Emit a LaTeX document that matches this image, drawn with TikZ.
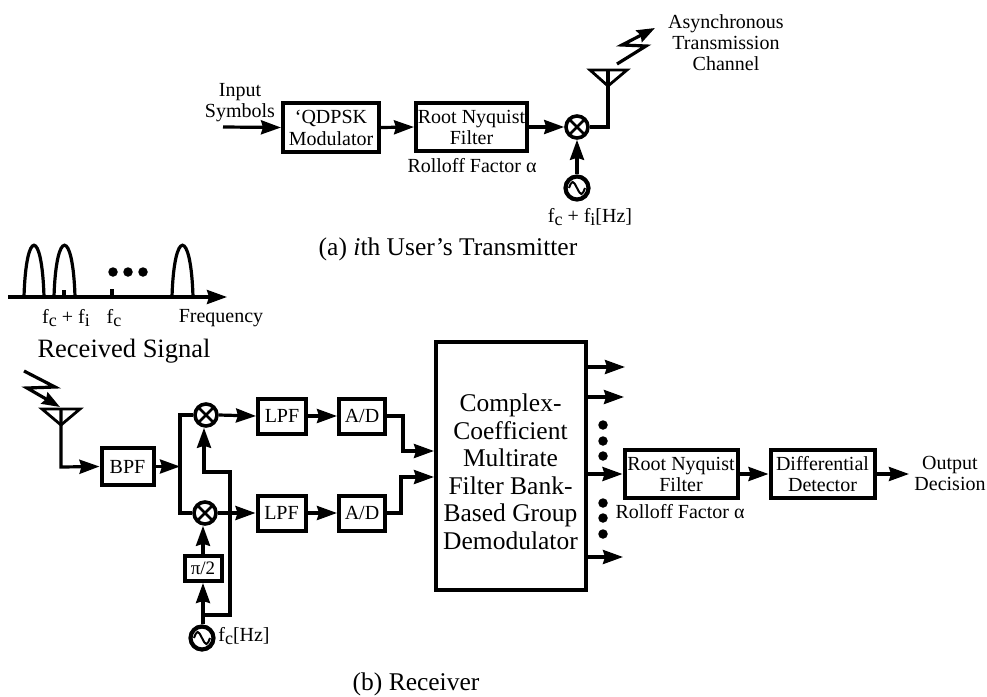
\documentclass[tikz,border=0pt]{standalone}
\usepackage{fontspec}
\setmainfont{Liberation Serif}
\usetikzlibrary{arrows.meta}
\newcommand{\sbs}[1]{\raisebox{-.4ex}{\fontsize{18}{18}\selectfont #1}}
\tikzset{
  x=1pt,y=-1pt,
  wire/.style={line width=3.2pt,line join=miter},
  arr/.style={wire,-{Stealth[length=20pt,width=14pt,inset=2pt]}},
  blk/.style={draw,line width=4pt,align=center,inner sep=0pt,font=\fontsize{20}{21}\selectfont},
  lab/.style={align=center,inner sep=0pt,font=\fontsize{20}{21}\selectfont},
  captxt/.style={inner sep=0pt,font=\fontsize{25.5}{26}\selectfont},
  mix/.style={draw,circle,line width=3.6pt,minimum size=22pt,inner sep=0pt,
    path picture={\draw[line width=2.6pt] (path picture bounding box.north west)--(path picture bounding box.south east)
      (path picture bounding box.north east)--(path picture bounding box.south west);}},
  osc/.style={draw,circle,line width=4.2pt,minimum size=23pt,inner sep=0pt,
    path picture={\draw[line width=2pt] (path picture bounding box.center) ++(-8,0)
      .. controls +(3,-8) and +(-4,-8) .. ++(8,0) .. controls +(4,8) and +(-3,8) .. ++(8,0);}},
  dot/.style={circle,fill=black,minimum size=9.5pt,inner sep=0pt},
}
\begin{document}
\begin{tikzpicture}
\useasboundingbox (0,0) rectangle (987,696);
% ---------- transmitter
\coordinate (tin) at (223,127);
\node[blk,minimum width=96pt,minimum height=49pt] (qd) at (331,127.5) {\char96 QDPSK\\[1pt]Modulator};
\node[blk,minimum width=111pt,minimum height=48pt] (rn) at (471.5,127) {Root Nyquist\\[0pt]Filter};
\node[mix] (tm) at (577,127) {};
\node[osc] (to) at (577,188) {};
\coordinate (tant) at (608,127);
\coordinate (ta1) at (590,70);
\coordinate (ta2) at (627,70);
\coordinate (ta3) at (608,86);
\coordinate (tac) at (608,70);
\draw[arr] (tin) -- (qd.west);
\draw[arr] (qd.east) -- (rn.west);
\draw[arr] (rn.east) -- (tm.west);
\draw[arr] (to.north) -- (tm.south);
\draw[wire] (tm.east) -- (tant) -- (tac);
\draw[wire,line width=2.8pt,line join=miter] (ta1) -- (ta2) -- (ta3) -- cycle;
\coordinate (tl1) at (617,64);
\coordinate (tl2) at (646,46);
\coordinate (tl3) at (622,45);
\coordinate (tl4) at (655,28);
\draw[wire,-{Stealth[length=18pt,width=13pt,inset=2pt]}] (tl1) -- (tl2) -- (tl3) -- (tl4);
\node[lab] (tinl) at (240,103) {Input\\[0pt]Symbols};
\node[lab] (roll1) at (472,166) {Rolloff Factor α};
\node[lab] (ffreq) at (590,217) {f\sbs{c} + f\sbs{i}[Hz]};
\node[lab] (chan) at (726,43) {Asynchronous\\[0pt]Transmission\\[0pt]Channel};
\node[captxt] (capa) at (448,249) {(a) \textit{i}th User\char39 s Transmitter};
% ---------- spectrum
\coordinate (ax0) at (8,297);
\coordinate (ax1) at (227,297);
\draw[arr] (ax0) -- (ax1);
\draw[wire] (24,297) .. controls (26,228) and (42,228) .. (44,297);
\draw[wire] (54,297) .. controls (56,228) and (73,228) .. (75,297);
\draw[wire] (172,297) .. controls (174,228) and (191,228) .. (193,297);
\draw[wire] (64,297) -- (64,290);
\draw[wire] (112,297) -- (112,289);
\node[dot] (sd1) at (113,272) {};
\node[dot] (sd2) at (128,272) {};
\node[dot] (sd3) at (143,272) {};
\node[lab] (lfi) at (66,318) {f\sbs{c} + f\sbs{i}};
\node[lab] (lfc) at (114,318) {f\sbs{c}};
\node[lab] (lfr) at (221,318) {Frequency};
\node[captxt,font=\fontsize{26.5}{27}\selectfont] (lrs) at (124,351) {Received Signal};
% ---------- receiver
\coordinate (ra1) at (42,409);
\coordinate (ra2) at (80,409);
\coordinate (ra3) at (61,425);
\coordinate (rac) at (61,409);
\coordinate (rae) at (61,467);
\draw[wire,line width=2.8pt] (ra1) -- (ra2) -- (ra3) -- cycle;
\coordinate (rl1) at (24,371);
\coordinate (rl2) at (55,387);
\coordinate (rl3) at (27,388);
\coordinate (rl4) at (60,407);
\draw[wire,-{Stealth[length=18pt,width=13pt,inset=2pt]}] (rl1) -- (rl2) -- (rl3) -- (rl4);
\node[blk,minimum width=52pt,minimum height=37pt] (bpf) at (127.5,466.5) {BPF};
\draw[arr] (rac) -- (rae) -- (bpf.west);
\coordinate (sp) at (180,466.5);
\node[mix] (m1) at (206,415) {};
\node[mix] (m2) at (205,513) {};
\draw[arr] (bpf.east) -- (sp);
\draw[wire] (m1.west) -- (180,415) -- (180,513) -- (m2.west);
\node[blk,minimum width=48pt,minimum height=35pt] (l1) at (282,416) {LPF};
\node[blk,minimum width=48pt,minimum height=35pt] (l2) at (281.5,513) {LPF};
\node[blk,minimum width=46pt,minimum height=35pt] (d1) at (362,416) {A/D};
\node[blk,minimum width=46pt,minimum height=35pt] (d2) at (362,513) {A/D};
\node[blk,minimum width=150pt,minimum height=248pt] (big) at (510.5,465.5) {};
\node[align=center,inner sep=0pt,font=\fontsize{25.5}{27.5}\selectfont] (bigt) at (510.5,472)
  {Complex-\\Coefficient\\Multirate\\Filter Bank-\\Based Group\\Demodulator};
\draw[arr] (m1.east) -- (l1.west);
\draw[arr] (m2.east) -- (l2.west);
\draw[arr] (l1.east) -- (d1.west);
\draw[arr] (l2.east) -- (d2.west);
\coordinate (d1a) at (403,416);
\coordinate (d1b) at (403,451);
\coordinate (b1) at (434,451);
\coordinate (d2a) at (401,513);
\coordinate (d2b) at (401,477);
\coordinate (b2) at (434,477);
\draw[arr] (d1.east) -- (d1a) -- (d1b) -- (b1);
\draw[arr] (d2.east) -- (d2a) -- (d2b) -- (b2);
\node[blk,minimum width=37pt,minimum height=25pt,font=\fontsize{19}{20}\selectfont] (pi) at (203,568.5) {π/2};
\node[osc] (ro) at (202,638) {};
\coordinate (j0) at (203,615);
\coordinate (j1) at (230,615);
\coordinate (j2) at (230,472);
\coordinate (j3) at (204,472);
\draw[arr] (ro.north -| pi.south) -- (pi.south);
\draw[arr] (pi.north) -- (pi.north |- m2.south);
\draw[arr] (j0) -- (j1) -- (j2) -- (j3) -- (j3 |- m1.south);
\node[lab] (lhz) at (244,636) {f\sbs{c}[Hz]};
\node[captxt] (capb) at (416,684) {(b) Receiver};
% outputs
\coordinate (o1) at (625,367);
\coordinate (o2) at (624,397);
\coordinate (o4) at (623,557);
\draw[arr] (big.east |- o1) -- (o1);
\draw[arr] (big.east |- o2) -- (o2);
\draw[arr] (big.east |- o4) -- (o4);
\node[dot] (u1) at (603,425) {};
\node[dot] (u2) at (603,441) {};
\node[dot] (u3) at (603,456) {};
\node[dot] (v1) at (603,503) {};
\node[dot] (v2) at (603,518) {};
\node[dot] (v3) at (603,534) {};
\node[blk,minimum width=113pt,minimum height=48pt] (rn2) at (681,474) {Root Nyquist\\[0pt]Filter};
\node[blk,minimum width=104pt,minimum height=48pt] (dd) at (822.5,474) {Differential\\[0pt]Detector};
\draw[arr] (big.east |- rn2) -- (rn2.west);
\draw[arr] (rn2.east) -- (dd.west);
\coordinate (oe) at (909,474);
\draw[arr] (dd.east) -- (oe);
\node[lab] (roll2) at (680,512) {Rolloff Factor α};
\node[lab] (outl) at (950,473.5) {Output\\[0pt]Decision};
\end{tikzpicture}
\end{document}
